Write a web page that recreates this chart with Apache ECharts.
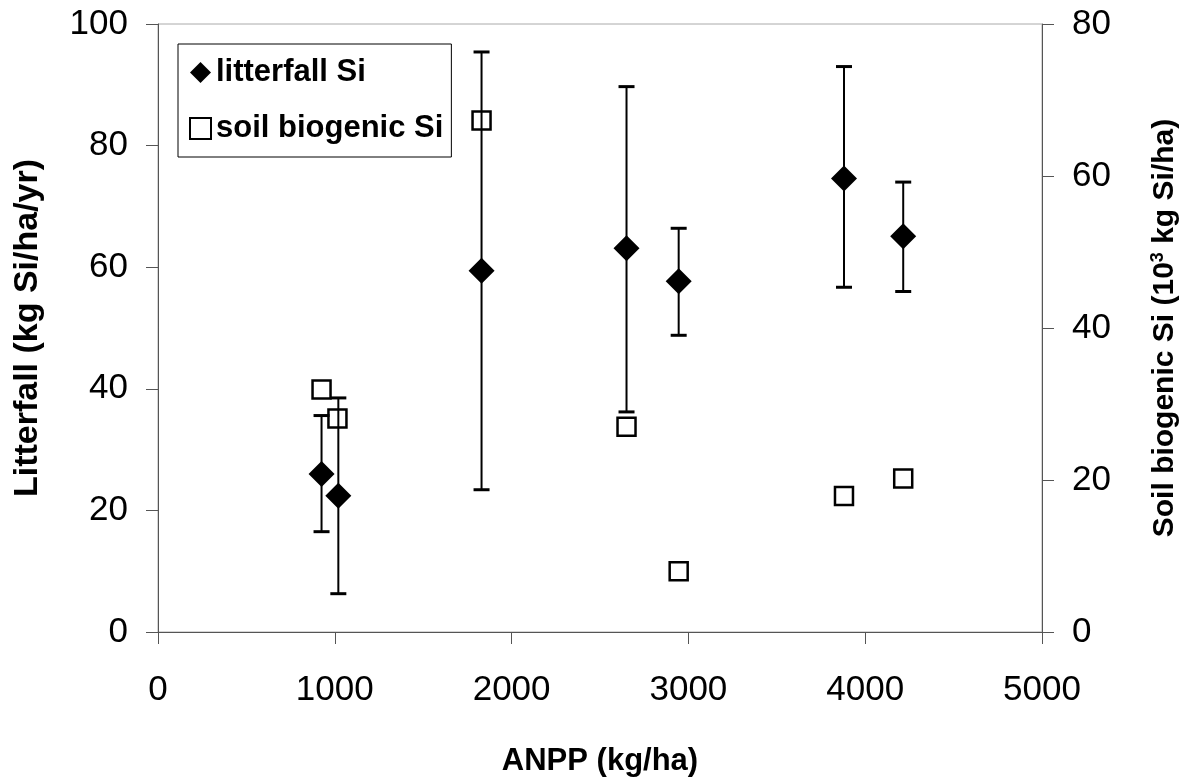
<!DOCTYPE html>
<html>
<head>
<meta charset="utf-8">
<script src="https://cdn.jsdelivr.net/npm/echarts@6/dist/echarts.min.js"></script>
<style>
html,body{margin:0;padding:0;background:#fff;}
#chart{width:1193px;height:783px;}
</style>
</head>
<body>
<div id="chart"></div>
<script>
// ANPP (kg/ha) positions of the sites
const anpp = [925, 1020, 1830, 2650, 2945, 3880, 4215];
// Litterfall Si (kg Si/ha/yr) with error bar limits
const litterfall = [26.0, 22.4, 59.4, 63.1, 57.7, 74.6, 65.1];
const litterLow = [16.5, 6.3, 23.4, 36.2, 48.8, 56.7, 56.0];
const litterHigh = [35.6, 38.5, 95.4, 89.7, 66.4, 93.0, 74.0];
// Soil biogenic Si (10^3 kg Si/ha)
const soilX = [925, 1015, 1830, 2650, 2945, 3880, 4215];
const soilSi = [31.9, 28.1, 67.3, 27.0, 8.0, 17.9, 20.2];
// Axis ticks
const xTicks = [0, 1000, 2000, 3000, 4000, 5000];
const yLeftTicks = [0, 20, 40, 60, 80, 100];
const yRightTicks = [0, 20, 40, 60, 80];

const FONT = '"Liberation Sans", Arial, sans-serif';
const chart = echarts.init(document.getElementById('chart'));

const litterData = anpp.map((x, i) => [x, litterfall[i]]);
const errData = anpp.map((x, i) => [x, litterLow[i], litterHigh[i]]);
const soilData = soilX.map((x, i) => [x, soilSi[i]]);
const plain = v => String(v);

const option = {
  backgroundColor: '#fff',
  animation: false,
  grid: {
    left: 158, right: 151, top: 24, bottom: 151,
    show: true, borderColor: '#aaa', borderWidth: 1, backgroundColor: 'transparent'
  },
  legend: {
    orient: 'vertical',
    left: 178, top: 44,
    padding: [13, 8, 13, 11],
    itemGap: 25,
    itemWidth: 21, itemHeight: 21,
    itemTextGap: 8,
    borderColor: '#000', borderWidth: 1,
    backgroundColor: '#fff',
    textStyle: { fontFamily: FONT, fontWeight: 'bold', fontSize: 31, color: '#000' },
    data: [
      { name: 'litterfall Si', icon: 'diamond', itemStyle: { color: '#000' } },
      { name: 'soil biogenic Si', icon: 'rect', itemStyle: { color: '#fff', borderColor: '#000', borderWidth: 2 } }
    ]
  },
  xAxis: {
    type: 'value', min: xTicks[0], max: xTicks[xTicks.length - 1], interval: 1000,
    name: 'ANPP (kg/ha)', nameLocation: 'middle', nameGap: 114,
    nameTextStyle: { fontFamily: FONT, fontWeight: 'bold', fontSize: 31, color: '#000' },
    axisLine: { show: true, lineStyle: { color: '#555', width: 1 } },
    axisTick: { show: true, inside: false, length: 12, lineStyle: { color: '#555' } },
    axisLabel: { fontFamily: FONT, fontSize: 35, color: '#000', margin: 41, formatter: plain },
    splitLine: { show: false }
  },
  yAxis: [
    {
      type: 'value', min: yLeftTicks[0], max: yLeftTicks[yLeftTicks.length - 1], interval: 20,
      position: 'left',
      name: 'Litterfall (kg Si/ha/yr)', nameLocation: 'middle', nameGap: 113, nameRotate: 90,
      nameTextStyle: { fontFamily: FONT, fontWeight: 'bold', fontSize: 34, color: '#000' },
      axisLine: { show: true, lineStyle: { color: '#555', width: 1 } },
      axisTick: { show: true, inside: false, length: 12, lineStyle: { color: '#555' } },
      axisLabel: { fontFamily: FONT, fontSize: 35, color: '#000', margin: 30, formatter: plain },
      splitLine: { show: false }
    },
    {
      type: 'value', min: yRightTicks[0], max: yRightTicks[yRightTicks.length - 1], interval: 20,
      position: 'right',
      name: '{a|Soil biogenic Si (10}{s|3}{a| kg Si/ha)}', nameLocation: 'middle', nameGap: 107, nameRotate: 90,
      nameTextStyle: {
        fontFamily: FONT, fontWeight: 'bold', fontSize: 30, color: '#000',
        rich: {
          a: { fontFamily: FONT, fontWeight: 'bold', fontSize: 30, color: '#000' },
          s: { fontFamily: FONT, fontWeight: 'bold', fontSize: 18, color: '#000', verticalAlign: 'top', padding: [0, 0, 14, 0] }
        }
      },
      axisLine: { show: true, lineStyle: { color: '#555', width: 1 } },
      axisTick: { show: true, inside: false, length: 12, lineStyle: { color: '#555' } },
      axisLabel: { fontFamily: FONT, fontSize: 35, color: '#000', margin: 30, formatter: plain },
      splitLine: { show: false }
    }
  ],
  series: [
    {
      name: 'errorbars', type: 'custom', yAxisIndex: 0, silent: true,
      data: errData,
      renderItem: function (params, api) {
        const x = api.value(0);
        const lo = api.coord([x, api.value(1)]);
        const hi = api.coord([x, api.value(2)]);
        const hw = 8;
        const st = { stroke: '#000', lineWidth: 2 };
        const cap = { stroke: '#000', lineWidth: 3 };
        return {
          type: 'group',
          children: [
            { type: 'line', shape: { x1: lo[0], y1: lo[1], x2: hi[0], y2: hi[1] }, style: st },
            { type: 'line', shape: { x1: hi[0] - hw, y1: hi[1], x2: hi[0] + hw, y2: hi[1] }, style: cap },
            { type: 'line', shape: { x1: lo[0] - hw, y1: lo[1], x2: lo[0] + hw, y2: lo[1] }, style: cap }
          ]
        };
      },
      z: 1
    },
    {
      name: 'soil biogenic Si', type: 'scatter', yAxisIndex: 1,
      data: soilData, symbol: 'rect', symbolSize: 18,
      itemStyle: { color: 'rgba(0,0,0,0)', borderColor: '#000', borderWidth: 2.5, opacity: 1 },
      z: 3
    },
    {
      name: 'litterfall Si', type: 'scatter', yAxisIndex: 0,
      data: litterData, symbol: 'diamond', symbolSize: 26,
      itemStyle: { color: '#000', opacity: 1 },
      z: 4
    }
  ]
};
chart.setOption(option);
</script>
</body>
</html>
